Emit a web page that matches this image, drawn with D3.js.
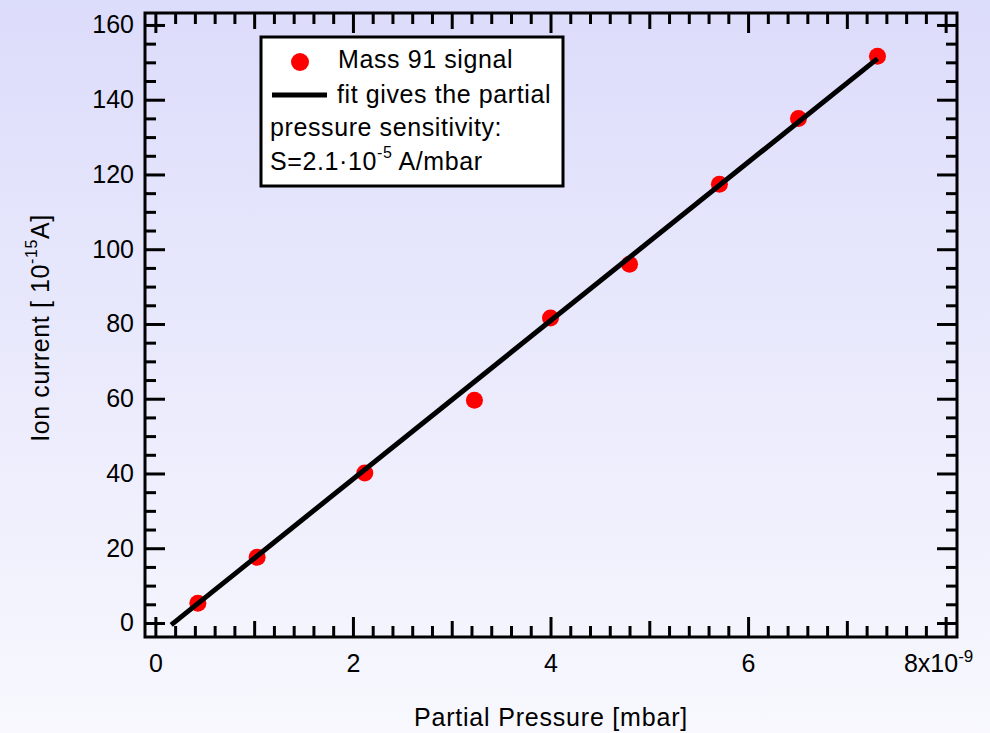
<!DOCTYPE html>
<html>
<head>
<meta charset="utf-8">
<script src="https://cdn.jsdelivr.net/npm/d3@7"></script>
<style>
  body { margin: 0; }
  svg text { font-family: "Liberation Sans", Arial, sans-serif; fill: #000; }
</style>
</head>
<body>
<svg id="chart"></svg>
<script>
// measured points: partial pressure (1e-9 mbar) vs ion current (1e-15 A)
var pressure = [0.43, 1.03, 2.12, 3.23, 4.0, 4.8, 5.71, 6.51, 7.31];
var current  = [5.3, 17.6, 40.1, 59.6, 81.6, 96.0, 117.4, 135.0, 151.6];

// linear fit end points
var fitX = [0.16, 7.31];
var fitY = [-0.5, 151.0];

var xMajor = [0, 2, 4, 6, 8];
var xMid = [1, 3, 5, 7];
var yMajor = [0, 20, 40, 60, 80, 100, 120, 140, 160];

var legendLines = ["Mass 91 signal", "fit gives the partial", "pressure sensitivity:"];

var width = 990, height = 733;

var svg = d3.select("#chart")
  .attr("width", width)
  .attr("height", height);

var grad = svg.append("defs").append("linearGradient")
  .attr("id", "bg")
  .attr("x1", 0).attr("y1", 0).attr("x2", 0).attr("y2", 1);
grad.append("stop").attr("offset", "0%").attr("stop-color", "#dcdcfb");
grad.append("stop").attr("offset", "100%").attr("stop-color", "#f8f8fe");

svg.append("rect")
  .attr("width", width)
  .attr("height", height)
  .attr("fill", "url(#bg)");

var x = d3.scaleLinear().domain([-0.105, 8.115]).range([145, 957]);
var y = d3.scaleLinear().domain([-3.75, 163.2]).range([637, 13]);

var x0 = x.range()[0], x1 = x.range()[1];
var y0 = y.range()[0], y1 = y.range()[1];

var xMinor = d3.range(0, 8.01, 0.2).filter(function(v) {
  return Math.abs(v - Math.round(v)) > 0.01;
});
var yMinor = d3.range(0, 161, 5).filter(function(v) { return v % 20 !== 0; });

function tickGroup(axis, tx, ty) {
  var g = svg.append("g")
    .attr("transform", "translate(" + tx + "," + ty + ")")
    .call(axis);
  g.select(".domain").remove();
  g.selectAll("line").attr("stroke", "#000").attr("stroke-width", 3);
  g.selectAll("text").attr("font-size", 25).attr("fill", "#000");
  return g;
}

// bottom
var xb = tickGroup(d3.axisBottom(x).tickValues(xMajor).tickSize(-20).tickSizeOuter(0).tickPadding(17)
  .tickFormat(function(d) { return d === 8 ? "8x10" : d; }), 0, y0);
tickGroup(d3.axisBottom(x).tickValues(xMid).tickSize(-16).tickSizeOuter(0).tickFormat(""), 0, y0);
tickGroup(d3.axisBottom(x).tickValues(xMinor).tickSize(-11).tickSizeOuter(0).tickFormat(""), 0, y0);

xb.selectAll("text")
  .filter(function(d) { return d === 8; })
  .attr("text-anchor", "middle")
  .attr("dx", "-0.3em")
  .append("tspan")
    .attr("dy", "-0.55em")
    .attr("font-size", 17)
    .text("-9");

// top
tickGroup(d3.axisTop(x).tickValues(xMajor).tickSize(-20).tickSizeOuter(0).tickFormat(""), 0, y1);
tickGroup(d3.axisTop(x).tickValues(xMid).tickSize(-16).tickSizeOuter(0).tickFormat(""), 0, y1);
tickGroup(d3.axisTop(x).tickValues(xMinor).tickSize(-11).tickSizeOuter(0).tickFormat(""), 0, y1);

// left
tickGroup(d3.axisLeft(y).tickValues(yMajor).tickSize(-20).tickSizeOuter(0).tickPadding(11), x0, 0);
tickGroup(d3.axisLeft(y).tickValues(yMinor).tickSize(-11).tickSizeOuter(0).tickFormat(""), x0, 0);

// right
tickGroup(d3.axisRight(y).tickValues(yMajor).tickSize(-20).tickSizeOuter(0).tickFormat(""), x1, 0);
tickGroup(d3.axisRight(y).tickValues(yMinor).tickSize(-11).tickSizeOuter(0).tickFormat(""), x1, 0);

// frame
svg.append("rect")
  .attr("x", x0).attr("y", y1)
  .attr("width", x1 - x0).attr("height", y0 - y1)
  .attr("fill", "none")
  .attr("stroke", "#000")
  .attr("stroke-width", 3);

// data
var points = pressure.map(function(p, i) { return {x: p, y: current[i]}; });

svg.append("g")
  .selectAll("circle")
  .data(points)
  .enter().append("circle")
    .attr("cx", function(d) { return x(d.x); })
    .attr("cy", function(d) { return y(d.y); })
    .attr("r", 8.5)
    .attr("fill", "#ff0000");

var fitPts = fitX.map(function(v, i) { return [v, fitY[i]]; });
svg.append("path")
  .datum(fitPts)
  .attr("d", d3.line().x(function(d) { return x(d[0]); }).y(function(d) { return y(d[1]); }))
  .attr("fill", "none")
  .attr("stroke", "#000")
  .attr("stroke-width", 5);

// legend
var lg = svg.append("g");
lg.append("rect")
  .attr("x", 261).attr("y", 37)
  .attr("width", 302).attr("height", 149)
  .attr("fill", "#fff")
  .attr("stroke", "#000")
  .attr("stroke-width", 3);
lg.append("circle").attr("cx", 300).attr("cy", 62).attr("r", 9).attr("fill", "#ff0000");
lg.append("line")
  .attr("x1", 272).attr("x2", 327).attr("y1", 95).attr("y2", 95)
  .attr("stroke", "#000").attr("stroke-width", 5);

var legendPos = [[338, 68], [337, 103], [270, 136]];
legendLines.forEach(function(t, i) {
  lg.append("text")
    .attr("x", legendPos[i][0]).attr("y", legendPos[i][1])
    .attr("font-size", 25)
    .attr("letter-spacing", 0.6)
    .text(t);
});
var sText = lg.append("text")
  .attr("x", 270).attr("y", 170)
  .attr("font-size", 25)
  .attr("letter-spacing", 0.6);
sText.append("tspan").text("S=2.1\u00b710");
sText.append("tspan").attr("dy", -12).attr("font-size", 16).text("-5");
sText.append("tspan").attr("dy", 12).attr("dx", 6).text("A/mbar");

// axis titles
svg.append("text")
  .attr("x", 551).attr("y", 726)
  .attr("text-anchor", "middle")
  .attr("font-size", 25)
  .attr("letter-spacing", 0.8)
  .text("Partial Pressure [mbar]");

var yt = svg.append("text")
  .attr("transform", "translate(49,328) rotate(-90)")
  .attr("text-anchor", "middle")
  .attr("font-size", 25)
  .attr("letter-spacing", 0.6);
yt.append("tspan").text("Ion current [ 10");
yt.append("tspan").attr("dy", -12).attr("font-size", 16).text("-15");
yt.append("tspan").attr("dy", 12).text("A]");
</script>
</body>
</html>
